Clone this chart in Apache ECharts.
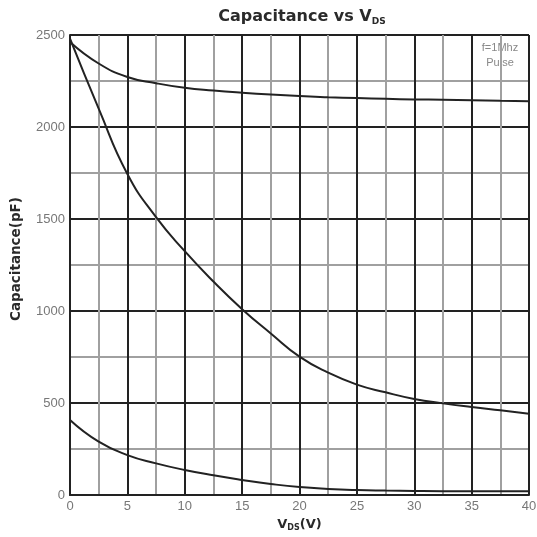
<!DOCTYPE html>
<html>
<head>
<meta charset="utf-8">
<script src="https://cdn.jsdelivr.net/npm/echarts@6/dist/echarts.min.js"></script>
<style>html,body{margin:0;padding:0;background:#fff;}#c{width:537px;height:537px;}</style>
</head>
<body>
<div id="c"></div>
<script>
// Data
const vds = [0, 2.5, 5, 7.5, 10, 12.5, 15, 17.5, 20, 22.5, 25, 27.5, 30, 32.5, 35, 37.5, 40];
const ciss = [2462, 2345, 2272, 2238, 2213, 2198, 2186, 2176, 2168, 2162, 2157, 2153, 2150, 2148, 2146, 2143, 2140];
const coss = [2480, 2100, 1745, 1510, 1325, 1160, 1010, 878, 752, 665, 600, 558, 522, 498, 478, 460, 442];
const crss = [408, 290, 217, 172, 136, 107, 82, 60, 43, 33, 27, 24, 22, 21, 21, 21, 21];
const xTicks = [0, 5, 10, 15, 20, 25, 30, 35, 40];
const yTicks = [0, 500, 1000, 1500, 2000, 2500];

const pair = (xs, ys) => xs.map((x, i) => [x, ys[i]]);
const lineSeries = (name, ys) => ({
  name, type: 'line', data: pair(vds, ys), smooth: 0.5, symbol: 'none',
  lineStyle: { color: '#222', width: 2 }, z: 5
});

const chart = echarts.init(document.getElementById('c'), null, { renderer: 'canvas' });
chart.setOption({
  animation: false,
  backgroundColor: '#fff',
  title: {
    text: '{a|Capacitance vs V}{s|DS}',
    left: 297, top: 3, textAlign: 'center',
    textStyle: {
      rich: {
        a: { fontFamily: 'DejaVu Sans', fontWeight: 'bold', fontSize: 16, color: '#2a2a2a' },
        s: { fontFamily: 'DejaVu Sans', fontWeight: 'bold', fontSize: 9, color: '#2a2a2a', padding: [9, 0, 0, 0] }
      }
    }
  },
  graphic: [{
    type: 'text', x: 500, y: 40,
    style: { text: 'f=1Mhz\nPulse', fontFamily: 'Liberation Sans', fontSize: 11, fill: '#888', align: 'center', verticalAlign: 'top', lineHeight: 15 }
  }],
  grid: { left: 70, right: 8, top: 35, bottom: 42, outerBoundsMode: 'none', containLabel: false },
  xAxis: {
    type: 'value', min: 0, max: 40, interval: 5,
    name: '{a|V}{s|DS}{a|(V)}', nameLocation: 'middle', nameGap: 20,
    nameTextStyle: {
      rich: {
        a: { fontFamily: 'DejaVu Sans', fontWeight: 'bold', fontSize: 13, color: '#2a2a2a' },
        s: { fontFamily: 'DejaVu Sans', fontWeight: 'bold', fontSize: 8, color: '#2a2a2a', padding: [8, 0, 0, 0] }
      }
    },
    axisLine: { show: true, lineStyle: { color: '#222', width: 2 } },
    axisTick: { show: false },
    axisLabel: { color: '#777', fontSize: 13, fontFamily: 'Liberation Sans', margin: 5,
      formatter: v => xTicks.includes(v) ? String(v) : '' },
    splitLine: { show: true, lineStyle: { color: '#222', width: 2 } },
    minorTick: { show: false, splitNumber: 2 },
    minorSplitLine: { show: true, lineStyle: { color: '#a0a0a0', width: 2 } }
  },
  yAxis: {
    type: 'value', min: 0, max: 2500, interval: 500,
    name: 'Capacitance(pF)', nameLocation: 'middle', nameGap: 47,
    nameTextStyle: { fontFamily: 'DejaVu Sans', fontWeight: 'bold', fontSize: 13.5, color: '#2a2a2a', padding: [0, 0, 0, 12] },
    axisLine: { show: true, lineStyle: { color: '#222', width: 2 } },
    axisTick: { show: false },
    axisLabel: { color: '#777', fontSize: 13, fontFamily: 'Liberation Sans', margin: 5,
      formatter: v => yTicks.includes(v) ? String(v) : '' },
    splitLine: { show: true, lineStyle: { color: '#222', width: 2 } },
    minorTick: { show: false, splitNumber: 2 },
    minorSplitLine: { show: true, lineStyle: { color: '#a0a0a0', width: 2 } }
  },
  series: [lineSeries('Ciss', ciss), lineSeries('Coss', coss), lineSeries('Crss', crss)]
});
</script>
</body>
</html>
